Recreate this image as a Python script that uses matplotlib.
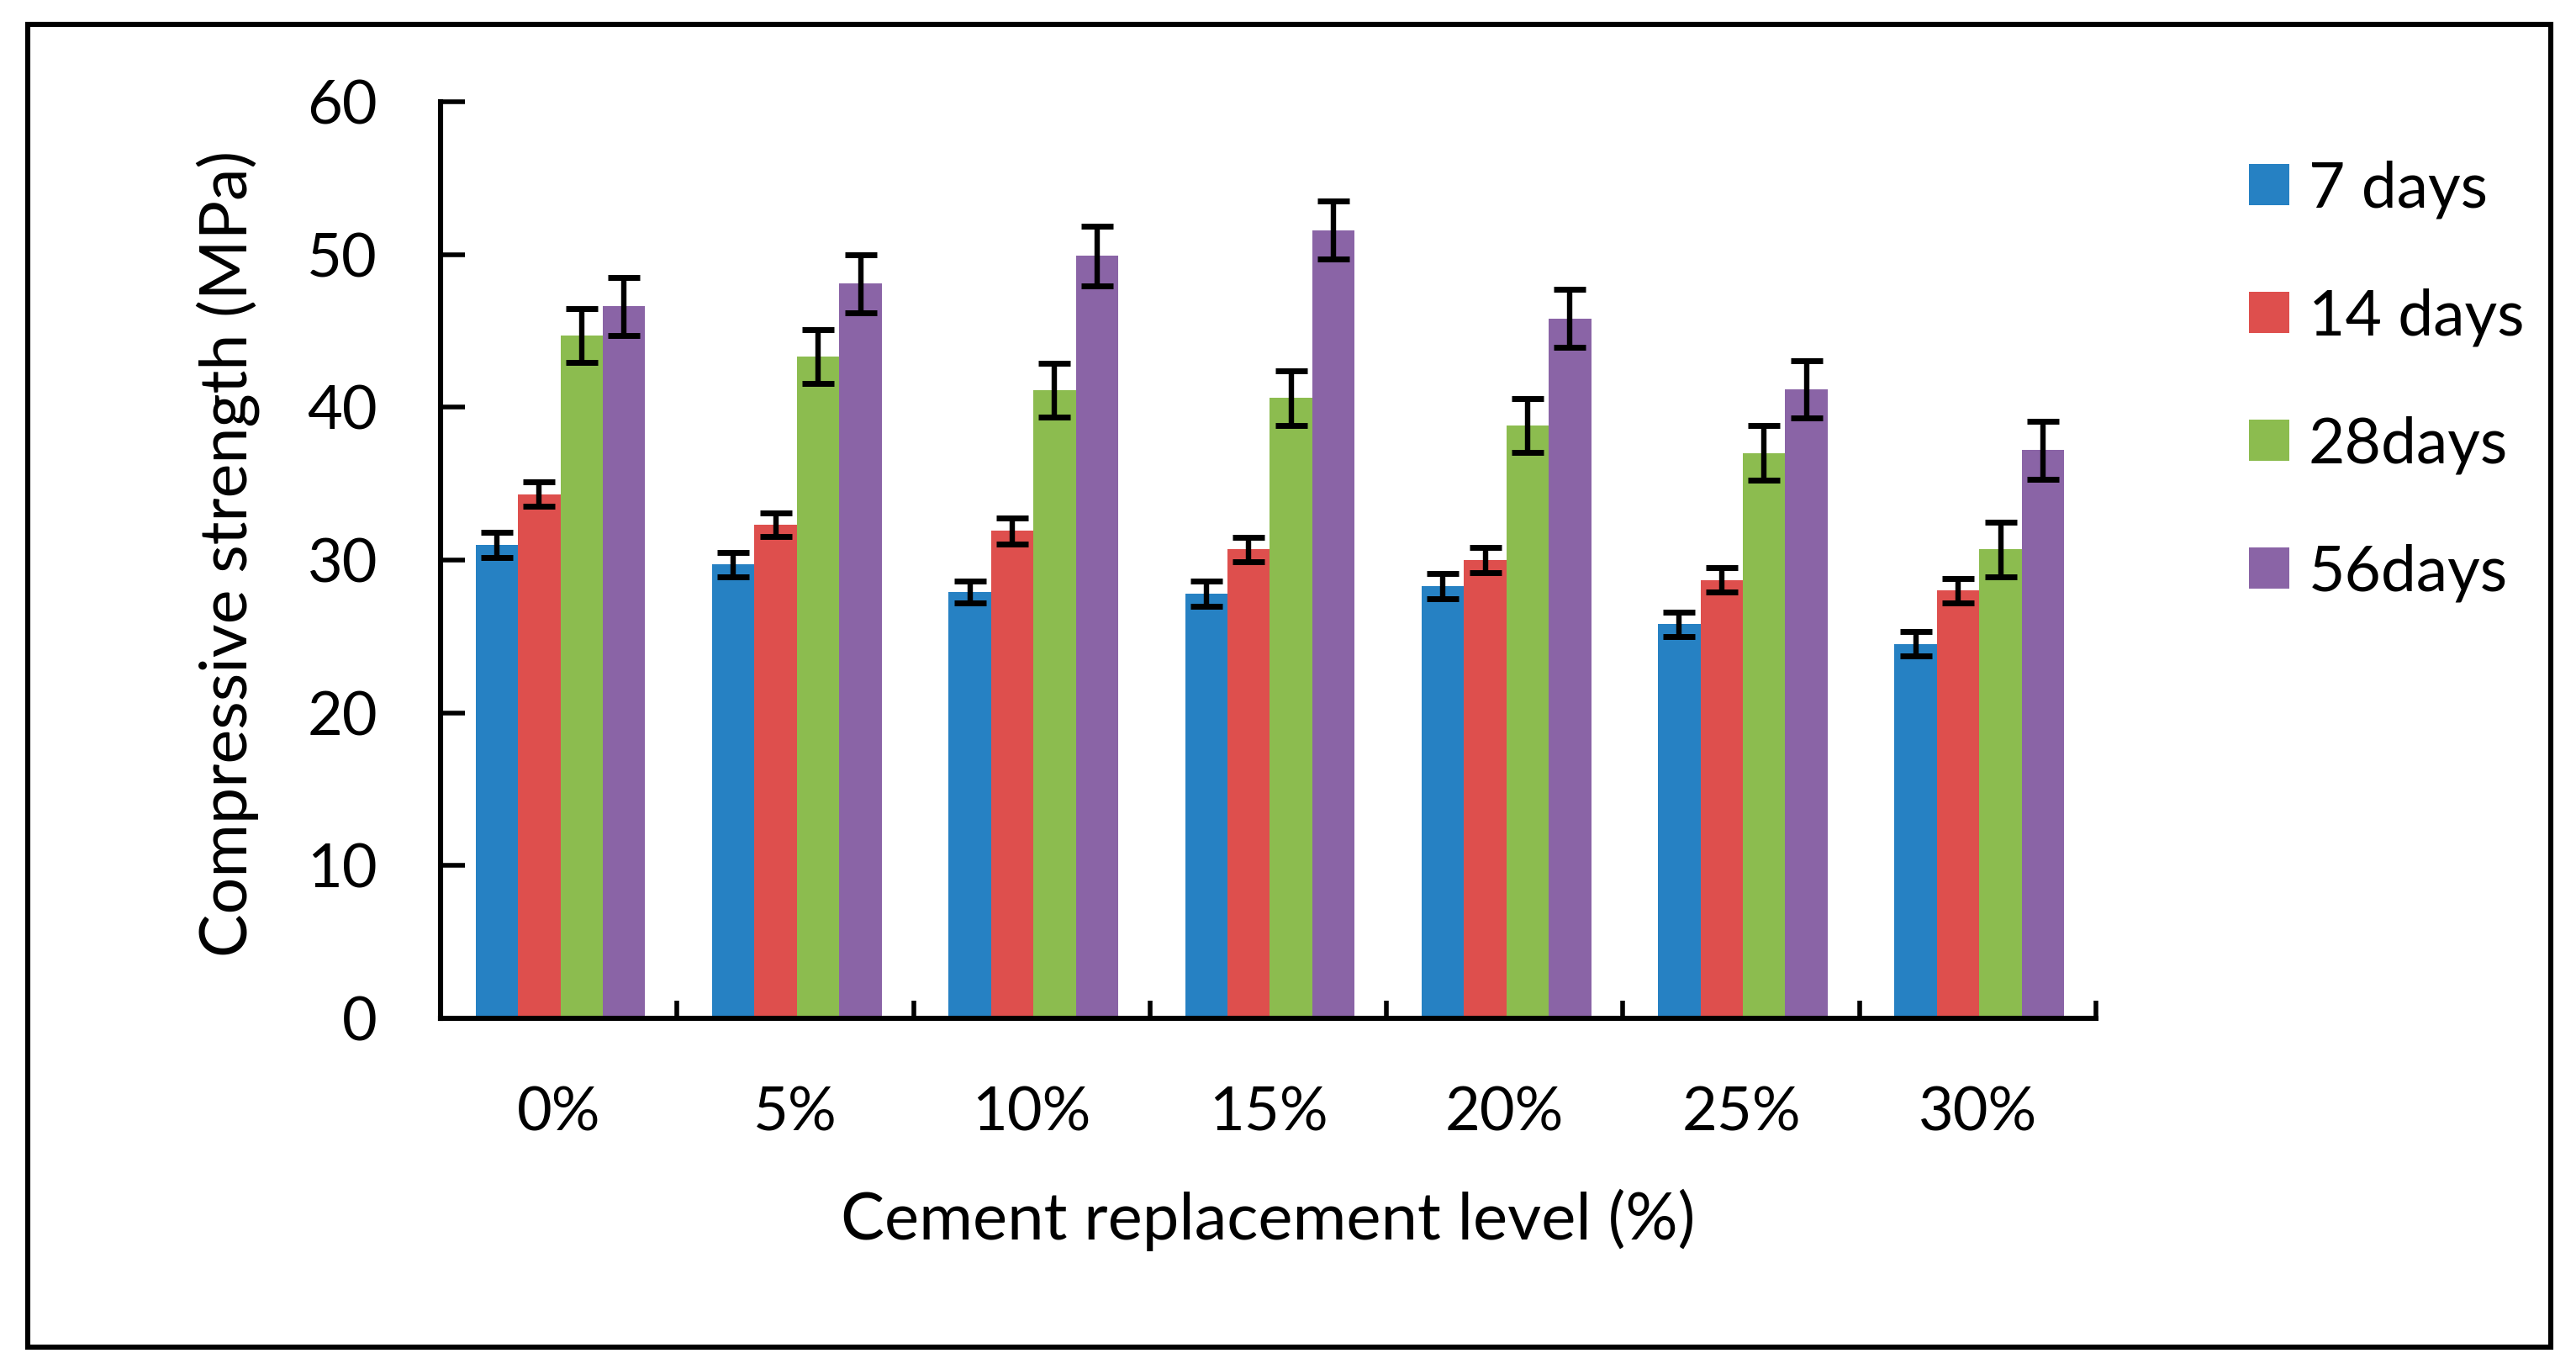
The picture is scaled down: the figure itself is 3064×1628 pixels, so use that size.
import matplotlib
matplotlib.use("Agg")
import matplotlib.pyplot as plt
from matplotlib.patches import Rectangle
import numpy as np

plt.rcParams['font.family'] = ['Lato', 'DejaVu Sans']

categories = ['0%', '5%', '10%', '15%', '20%', '25%', '30%']
series_names = ['7 days', '14 days', '28days', '56days']
s7 = [31.0, 29.7, 27.9, 27.8, 28.3, 25.8, 24.5]
s14 = [34.3, 32.3, 31.9, 30.7, 30.0, 28.7, 28.0]
s28 = [44.7, 43.3, 41.1, 40.6, 38.8, 37.0, 30.7]
s56 = [46.6, 48.1, 49.9, 51.6, 45.8, 41.2, 37.2]
e7 = [0.83, 0.8, 0.73, 0.8, 0.83, 0.8, 0.8]
e14 = [0.8, 0.77, 0.87, 0.8, 0.8, 0.8, 0.8]
e28 = [1.76, 1.76, 1.76, 1.8, 1.78, 1.78, 1.8]
e56 = [1.9, 1.9, 1.93, 1.9, 1.9, 1.87, 1.9]
yticks = [0, 10, 20, 30, 40, 50, 60]

colors = ['#2681C3', '#DE4F4D', '#8CBC4F', '#8A64A6']
values = [s7, s14, s28, s56]
errors = [e7, e14, e28, e56]

W, H, DPI = 3064, 1628, 200
fig = plt.figure(figsize=(W / DPI, H / DPI), dpi=DPI)
ax = fig.add_axes([524 / W, 1 - 1211 / H, (2493 - 524) / W, (1211 - 121) / H])

x = np.arange(len(categories))
bw = 0.1793
handles = []
for i, (vals, errs, c, name) in enumerate(zip(values, errors, colors, series_names)):
    pos = x + (i - 1.5) * bw + 0.007
    b = ax.bar(pos, vals, width=bw, color=c, edgecolor='none', label=name, zorder=2)
    handles.append(b)
    ax.errorbar(pos, vals, yerr=errs, fmt='none', ecolor='black', elinewidth=2.3,
                capsize=7.0, capthick=2.5, zorder=3)

ax.set_xlim(-0.5, len(categories) - 0.5)
ax.set_ylim(0, 60)
ax.set_yticks(yticks)
ax.set_xticks(x)
ax.set_xticklabels(categories)
ax.set_xticks(np.arange(len(categories)) + 0.5, minor=True)

for s in ['top', 'right']:
    ax.spines[s].set_visible(False)
for s in ['left', 'bottom']:
    ax.spines[s].set_linewidth(2.2)

ax.tick_params(axis='y', direction='in', length=10.4, width=2.0, pad=27, labelsize=26)
ax.tick_params(axis='x', which='major', length=0, pad=29, labelsize=26)
ax.tick_params(axis='x', which='minor', direction='in', length=7.6, width=2.0)

fig.text(271 / W, 1 - 658 / H, 'Compressive strength (MPa)', rotation=90,
         ha='center', va='center', fontsize=27.8)
fig.text(1508 / W, 1 - 1474 / H, 'Cement replacement level (%)', ha='center',
         va='baseline', fontsize=28)

leg = fig.legend(handles=handles, labels=series_names, loc='upper left',
                 bbox_to_anchor=(2645 / W, 1 - 160 / H), frameon=False,
                 fontsize=27, handlelength=0.64, handleheight=0.62,
                 handletextpad=0.3, labelspacing=1.1, borderaxespad=0)

fig.patches.append(Rectangle((33 / W, 1 - 1602 / H), (3034 - 33) / W, (1602 - 29) / H,
                             transform=fig.transFigure, fill=False,
                             edgecolor='black', linewidth=2.2))

fig.savefig('out.png', dpi=DPI)
